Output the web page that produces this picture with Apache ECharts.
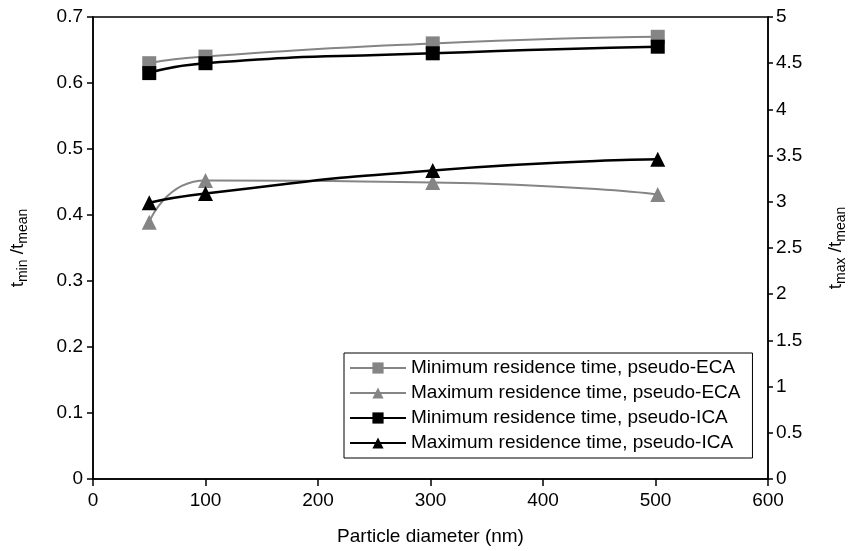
<!DOCTYPE html>
<html>
<head>
<meta charset="utf-8">
<script src="https://cdn.jsdelivr.net/npm/echarts@6/dist/echarts.min.js"></script>
<style>html,body{margin:0;padding:0;background:#fff}#c{width:856px;height:551px}</style>
</head>
<body>
<div id="c"></div>
<script>
var diameters = [50, 100, 302, 502];
var minECA = [0.63, 0.64, 0.66, 0.67];
var maxECA = [2.78, 3.23, 3.21, 3.08];
var minICA = [0.615, 0.63, 0.645, 0.655];
var maxICA = [2.99, 3.09, 3.34, 3.46];
var seriesNames = [
  'Minimum residence time, pseudo-ECA',
  'Maximum residence time, pseudo-ECA',
  'Minimum residence time, pseudo-ICA',
  'Maximum residence time, pseudo-ICA'
];

function pairs(vals) { return diameters.map(function (d, i) { return [d, vals[i]]; }); }

var FONT = 'Liberation Sans, Arial, sans-serif';
var FS = 19;
var GRAY = '#858585';

var chart = echarts.init(document.getElementById('c'), null, {renderer: 'canvas'});
var nameRich = {
  t: {fontSize: FS, fontFamily: FONT, color: '#000', lineHeight: 24, verticalAlign: 'middle'},
  s: {fontSize: 14, fontFamily: FONT, color: '#000', lineHeight: 15, verticalAlign: 'bottom'}
};
function mkSeries(name, data, yIdx, color, symbol, width) {
  return {
    name: name, type: 'line', yAxisIndex: yIdx, data: data, smooth: 0.6,
    symbol: symbol, symbolSize: symbol === 'triangle' ? 15 : 14,
    lineStyle: {color: color, width: width},
    itemStyle: {color: color},
    z: color === '#000' ? 3 : 2
  };
}
chart.setOption({
  backgroundColor: '#fff',
  animation: false,
  textStyle: {fontFamily: FONT},
  grid: {left: 93, right: 80, top: 17, bottom: 72, show: true, borderColor: '#000', borderWidth: 1.5, backgroundColor: 'transparent'},
  legend: {
    orient: 'vertical', left: 344, top: 353,
    padding: [5, 12, 5, 5],
    itemWidth: 56, itemHeight: 14, itemGap: 5, itemTextGap: 18,
    backgroundColor: '#fff', borderColor: '#000', borderWidth: 1,
    textStyle: {fontSize: 19, fontFamily: FONT, color: '#000', lineHeight: 20},
    data: seriesNames
  },
  xAxis: {
    type: 'value', min: 0, max: 600, interval: 100,
    name: 'Particle diameter (nm)', nameLocation: 'middle', nameGap: 48,
    nameTextStyle: {fontSize: FS, fontFamily: FONT, color: '#000'},
    axisLine: {show: true, lineStyle: {color: '#000', width: 1.5}},
    axisTick: {show: true, inside: false, length: 7, lineStyle: {color: '#000', width: 1.5}},
    axisLabel: {fontSize: FS, fontFamily: FONT, color: '#000', margin: 12},
    splitLine: {show: false}
  },
  yAxis: [{
    type: 'value', min: 0, max: 0.7, interval: 0.1, position: 'left',
    name: '{t|t}{s|min}{t| /t}{s|mean}', nameLocation: 'middle', nameGap: 63, nameRotate: 90,
    nameTextStyle: {rich: nameRich},
    axisLine: {show: true, lineStyle: {color: '#000', width: 1.5}},
    axisTick: {show: true, inside: false, length: 6, lineStyle: {color: '#000', width: 1.5}},
    axisLabel: {fontSize: FS, fontFamily: FONT, color: '#000', margin: 10},
    splitLine: {show: false}
  }, {
    type: 'value', min: 0, max: 5, interval: 0.5, position: 'right',
    name: '{t|t}{s|max}{t| /t}{s|mean}', nameLocation: 'middle', nameGap: 56, nameRotate: 90,
    nameTextStyle: {rich: nameRich},
    axisLine: {show: true, lineStyle: {color: '#000', width: 1.5}},
    axisTick: {show: true, inside: false, length: 5, lineStyle: {color: '#000', width: 1.5}},
    axisLabel: {fontSize: FS, fontFamily: FONT, color: '#000', margin: 8},
    splitLine: {show: false}
  }],
  series: [
    mkSeries(seriesNames[0], pairs(minECA), 0, GRAY, 'rect', 2),
    mkSeries(seriesNames[1], pairs(maxECA), 1, GRAY, 'triangle', 2),
    mkSeries(seriesNames[2], pairs(minICA), 0, '#000', 'rect', 2.5),
    mkSeries(seriesNames[3], pairs(maxICA), 1, '#000', 'triangle', 2.5)
  ]
});
</script>
</body>
</html>
